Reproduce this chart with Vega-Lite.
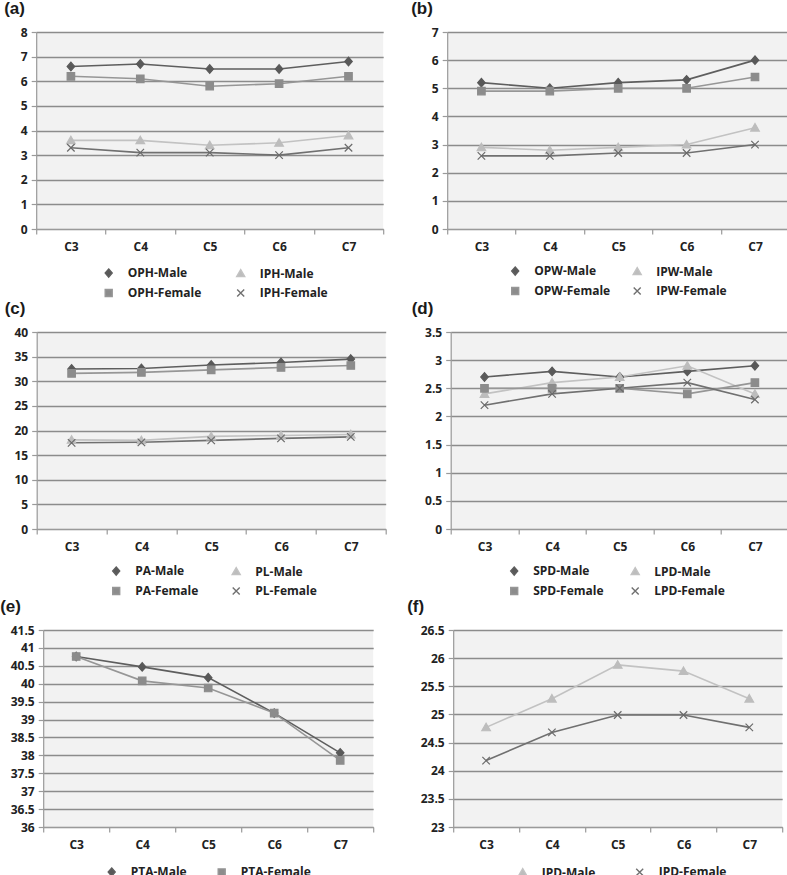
{
  "$schema": "https://vega.github.io/schema/vega-lite/v6.json",
  "background": "white",
  "padding": {"left": 0, "top": 0, "right": 2, "bottom": 0},
  "datasets": {
    "a": [
      {"cat": "C3", "s": "OPH-Male", "v": 6.6}, {"cat": "C4", "s": "OPH-Male", "v": 6.7}, {"cat": "C5", "s": "OPH-Male", "v": 6.5}, {"cat": "C6", "s": "OPH-Male", "v": 6.5}, {"cat": "C7", "s": "OPH-Male", "v": 6.8},
      {"cat": "C3", "s": "IPH-Male", "v": 3.6}, {"cat": "C4", "s": "IPH-Male", "v": 3.6}, {"cat": "C5", "s": "IPH-Male", "v": 3.4}, {"cat": "C6", "s": "IPH-Male", "v": 3.5}, {"cat": "C7", "s": "IPH-Male", "v": 3.8},
      {"cat": "C3", "s": "OPH-Female", "v": 6.2}, {"cat": "C4", "s": "OPH-Female", "v": 6.1}, {"cat": "C5", "s": "OPH-Female", "v": 5.8}, {"cat": "C6", "s": "OPH-Female", "v": 5.9}, {"cat": "C7", "s": "OPH-Female", "v": 6.2},
      {"cat": "C3", "s": "IPH-Female", "v": 3.3}, {"cat": "C4", "s": "IPH-Female", "v": 3.1}, {"cat": "C5", "s": "IPH-Female", "v": 3.1}, {"cat": "C6", "s": "IPH-Female", "v": 3.0}, {"cat": "C7", "s": "IPH-Female", "v": 3.3}
    ],
    "b": [
      {"cat": "C3", "s": "OPW-Male", "v": 5.2}, {"cat": "C4", "s": "OPW-Male", "v": 5.0}, {"cat": "C5", "s": "OPW-Male", "v": 5.2}, {"cat": "C6", "s": "OPW-Male", "v": 5.3}, {"cat": "C7", "s": "OPW-Male", "v": 6.0},
      {"cat": "C3", "s": "IPW-Male", "v": 2.9}, {"cat": "C4", "s": "IPW-Male", "v": 2.8}, {"cat": "C5", "s": "IPW-Male", "v": 2.9}, {"cat": "C6", "s": "IPW-Male", "v": 3.0}, {"cat": "C7", "s": "IPW-Male", "v": 3.6},
      {"cat": "C3", "s": "OPW-Female", "v": 4.9}, {"cat": "C4", "s": "OPW-Female", "v": 4.9}, {"cat": "C5", "s": "OPW-Female", "v": 5.0}, {"cat": "C6", "s": "OPW-Female", "v": 5.0}, {"cat": "C7", "s": "OPW-Female", "v": 5.4},
      {"cat": "C3", "s": "IPW-Female", "v": 2.6}, {"cat": "C4", "s": "IPW-Female", "v": 2.6}, {"cat": "C5", "s": "IPW-Female", "v": 2.7}, {"cat": "C6", "s": "IPW-Female", "v": 2.7}, {"cat": "C7", "s": "IPW-Female", "v": 3.0}
    ],
    "c": [
      {"cat": "C3", "s": "PA-Male", "v": 32.5}, {"cat": "C4", "s": "PA-Male", "v": 32.6}, {"cat": "C5", "s": "PA-Male", "v": 33.3}, {"cat": "C6", "s": "PA-Male", "v": 33.8}, {"cat": "C7", "s": "PA-Male", "v": 34.5},
      {"cat": "C3", "s": "PL-Male", "v": 18.1}, {"cat": "C4", "s": "PL-Male", "v": 18.0}, {"cat": "C5", "s": "PL-Male", "v": 18.8}, {"cat": "C6", "s": "PL-Male", "v": 19.0}, {"cat": "C7", "s": "PL-Male", "v": 19.2},
      {"cat": "C3", "s": "PA-Female", "v": 31.6}, {"cat": "C4", "s": "PA-Female", "v": 31.8}, {"cat": "C5", "s": "PA-Female", "v": 32.3}, {"cat": "C6", "s": "PA-Female", "v": 32.8}, {"cat": "C7", "s": "PA-Female", "v": 33.2},
      {"cat": "C3", "s": "PL-Female", "v": 17.5}, {"cat": "C4", "s": "PL-Female", "v": 17.6}, {"cat": "C5", "s": "PL-Female", "v": 18.0}, {"cat": "C6", "s": "PL-Female", "v": 18.4}, {"cat": "C7", "s": "PL-Female", "v": 18.7}
    ],
    "d": [
      {"cat": "C3", "s": "SPD-Male", "v": 2.7}, {"cat": "C4", "s": "SPD-Male", "v": 2.8}, {"cat": "C5", "s": "SPD-Male", "v": 2.7}, {"cat": "C6", "s": "SPD-Male", "v": 2.8}, {"cat": "C7", "s": "SPD-Male", "v": 2.9},
      {"cat": "C3", "s": "LPD-Male", "v": 2.4}, {"cat": "C4", "s": "LPD-Male", "v": 2.6}, {"cat": "C5", "s": "LPD-Male", "v": 2.7}, {"cat": "C6", "s": "LPD-Male", "v": 2.9}, {"cat": "C7", "s": "LPD-Male", "v": 2.4},
      {"cat": "C3", "s": "SPD-Female", "v": 2.5}, {"cat": "C4", "s": "SPD-Female", "v": 2.5}, {"cat": "C5", "s": "SPD-Female", "v": 2.5}, {"cat": "C6", "s": "SPD-Female", "v": 2.4}, {"cat": "C7", "s": "SPD-Female", "v": 2.6},
      {"cat": "C3", "s": "LPD-Female", "v": 2.2}, {"cat": "C4", "s": "LPD-Female", "v": 2.4}, {"cat": "C5", "s": "LPD-Female", "v": 2.5}, {"cat": "C6", "s": "LPD-Female", "v": 2.6}, {"cat": "C7", "s": "LPD-Female", "v": 2.3}
    ],
    "e": [
      {"cat": "C3", "s": "PTA-Male", "v": 40.76}, {"cat": "C4", "s": "PTA-Male", "v": 40.47}, {"cat": "C5", "s": "PTA-Male", "v": 40.17}, {"cat": "C6", "s": "PTA-Male", "v": 39.18}, {"cat": "C7", "s": "PTA-Male", "v": 38.07},
      {"cat": "C3", "s": "PTA-Female", "v": 40.76}, {"cat": "C4", "s": "PTA-Female", "v": 40.08}, {"cat": "C5", "s": "PTA-Female", "v": 39.88}, {"cat": "C6", "s": "PTA-Female", "v": 39.18}, {"cat": "C7", "s": "PTA-Female", "v": 37.86}
    ],
    "f": [
      {"cat": "C3", "s": "IPD-Male", "v": 24.77}, {"cat": "C4", "s": "IPD-Male", "v": 25.28}, {"cat": "C5", "s": "IPD-Male", "v": 25.88}, {"cat": "C6", "s": "IPD-Male", "v": 25.77}, {"cat": "C7", "s": "IPD-Male", "v": 25.28},
      {"cat": "C3", "s": "IPD-Female", "v": 24.18}, {"cat": "C4", "s": "IPD-Female", "v": 24.68}, {"cat": "C5", "s": "IPD-Female", "v": 24.99}, {"cat": "C6", "s": "IPD-Female", "v": 24.99}, {"cat": "C7", "s": "IPD-Female", "v": 24.77}
    ]
  },
  "vconcat": [
    {
      "hconcat": [
        {
          "title": {"text": "(a)", "dx": -32},
          "width": 347, "height": 197,
          "data": {"name": "a"},
          "encoding": {
            "x": {"field": "cat", "type": "ordinal", "title": null, "scale": {"type": "band", "paddingInner": 0, "paddingOuter": 0}, "axis": {"tickBand": "extent", "labelAngle": 0}},
            "y": {"field": "v", "type": "quantitative", "title": null, "scale": {"domain": [0, 8], "nice": false, "zero": false}, "axis": {"values": [0, 1, 2, 3, 4, 5, 6, 7, 8]}}
          },
          "layer": [
            {"mark": {"type": "line", "strokeWidth": 1.6}, "encoding": {"color": {"field": "s", "type": "nominal", "scale": {"domain": ["OPH-Male", "IPH-Male", "OPH-Female", "IPH-Female"], "range": ["#5e5e5e", "#c2c2c2", "#969696", "#707070"]}, "legend": {"title": null, "orient": "none", "legendX": 66.5, "legendY": 235, "columns": 2, "direction": "horizontal", "columnPadding": 32}}}},
            {"mark": {"type": "point", "filled": true, "opacity": 1, "size": 56, "strokeWidth": 1.2},
             "encoding": {
               "fill": {"field": "s", "type": "nominal", "scale": {"domain": ["OPH-Male", "IPH-Male", "OPH-Female", "IPH-Female"], "range": ["#595959", "#bdbdbd", "#8c8c8c", "#6a6a6a"]}, "legend": null},
               "stroke": {"field": "s", "type": "nominal", "scale": {"domain": ["OPH-Male", "IPH-Male", "OPH-Female", "IPH-Female"], "range": ["#595959", "#bdbdbd", "#8c8c8c", "#6a6a6a"]}, "legend": null},
               "shape": {"field": "s", "type": "nominal", "scale": {"domain": ["OPH-Male", "IPH-Male", "OPH-Female", "IPH-Female"], "range": ["M0,-1.15L1,0L0,1.15L-1,0Z", "M0,-1.1L1.15,0.9L-1.15,0.9Z", "M-1,-1H1V1H-1Z", "M-1,-1L1,1M1,-1L-1,1"]}, "legend": null}
             }}
          ]
        },
        {
          "title": {"text": "(b)", "dx": -36},
          "width": 342, "height": 197,
          "data": {"name": "b"},
          "encoding": {
            "x": {"field": "cat", "type": "ordinal", "title": null, "scale": {"type": "band", "paddingInner": 0, "paddingOuter": 0}, "axis": {"tickBand": "extent", "labelAngle": 0}},
            "y": {"field": "v", "type": "quantitative", "title": null, "scale": {"domain": [0, 7], "nice": false, "zero": false}, "axis": {"values": [0, 1, 2, 3, 4, 5, 6, 7]}}
          },
          "layer": [
            {"mark": {"type": "line", "strokeWidth": 1.6}, "encoding": {"color": {"field": "s", "type": "nominal", "scale": {"domain": ["OPW-Male", "IPW-Male", "OPW-Female", "IPW-Female"], "range": ["#5e5e5e", "#c2c2c2", "#969696", "#707070"]}, "legend": {"title": null, "orient": "none", "legendX": 62, "legendY": 233, "columns": 2, "direction": "horizontal", "columnPadding": 19}}}},
            {"mark": {"type": "point", "filled": true, "opacity": 1, "size": 56, "strokeWidth": 1.2},
             "encoding": {
               "fill": {"field": "s", "type": "nominal", "scale": {"domain": ["OPW-Male", "IPW-Male", "OPW-Female", "IPW-Female"], "range": ["#595959", "#bdbdbd", "#8c8c8c", "#6a6a6a"]}, "legend": null},
               "stroke": {"field": "s", "type": "nominal", "scale": {"domain": ["OPW-Male", "IPW-Male", "OPW-Female", "IPW-Female"], "range": ["#595959", "#bdbdbd", "#8c8c8c", "#6a6a6a"]}, "legend": null},
               "shape": {"field": "s", "type": "nominal", "scale": {"domain": ["OPW-Male", "IPW-Male", "OPW-Female", "IPW-Female"], "range": ["M0,-1.15L1,0L0,1.15L-1,0Z", "M0,-1.1L1.15,0.9L-1.15,0.9Z", "M-1,-1H1V1H-1Z", "M-1,-1L1,1M1,-1L-1,1"]}, "legend": null}
             }}
          ]
        }
      ],
      "spacing": 27,
      "resolve": {"scale": {"color": "independent", "fill": "independent", "stroke": "independent", "shape": "independent"}, "legend": {"color": "independent", "fill": "independent", "stroke": "independent", "shape": "independent"}}
    },
    {
      "hconcat": [
        {
          "title": {"text": "(c)", "dx": -32},
          "width": 349, "height": 197,
          "data": {"name": "c"},
          "encoding": {
            "x": {"field": "cat", "type": "ordinal", "title": null, "scale": {"type": "band", "paddingInner": 0, "paddingOuter": 0}, "axis": {"tickBand": "extent", "labelAngle": 0}},
            "y": {"field": "v", "type": "quantitative", "title": null, "scale": {"domain": [0, 40], "nice": false, "zero": false}, "axis": {"values": [0, 5, 10, 15, 20, 25, 30, 35, 40]}}
          },
          "layer": [
            {"mark": {"type": "line", "strokeWidth": 1.6}, "encoding": {"color": {"field": "s", "type": "nominal", "scale": {"domain": ["PA-Male", "PL-Male", "PA-Female", "PL-Female"], "range": ["#5e5e5e", "#c2c2c2", "#969696", "#707070"]}, "legend": {"title": null, "orient": "none", "legendX": 73.5, "legendY": 233, "columns": 2, "direction": "horizontal", "columnPadding": 30}}}},
            {"mark": {"type": "point", "filled": true, "opacity": 1, "size": 56, "strokeWidth": 1.2},
             "encoding": {
               "fill": {"field": "s", "type": "nominal", "scale": {"domain": ["PA-Male", "PL-Male", "PA-Female", "PL-Female"], "range": ["#595959", "#bdbdbd", "#8c8c8c", "#6a6a6a"]}, "legend": null},
               "stroke": {"field": "s", "type": "nominal", "scale": {"domain": ["PA-Male", "PL-Male", "PA-Female", "PL-Female"], "range": ["#595959", "#bdbdbd", "#8c8c8c", "#6a6a6a"]}, "legend": null},
               "shape": {"field": "s", "type": "nominal", "scale": {"domain": ["PA-Male", "PL-Male", "PA-Female", "PL-Female"], "range": ["M0,-1.15L1,0L0,1.15L-1,0Z", "M0,-1.1L1.15,0.9L-1.15,0.9Z", "M-1,-1H1V1H-1Z", "M-1,-1L1,1M1,-1L-1,1"]}, "legend": null}
             }}
          ]
        },
        {
          "title": {"text": "(d)", "dx": -39},
          "width": 338, "height": 197,
          "data": {"name": "d"},
          "encoding": {
            "x": {"field": "cat", "type": "ordinal", "title": null, "scale": {"type": "band", "paddingInner": 0, "paddingOuter": 0}, "axis": {"tickBand": "extent", "labelAngle": 0}},
            "y": {"field": "v", "type": "quantitative", "title": null, "scale": {"domain": [0, 3.5], "nice": false, "zero": false}, "axis": {"values": [0, 0.5, 1, 1.5, 2, 2.5, 3, 3.5]}}
          },
          "layer": [
            {"mark": {"type": "line", "strokeWidth": 1.6}, "encoding": {"color": {"field": "s", "type": "nominal", "scale": {"domain": ["SPD-Male", "LPD-Male", "SPD-Female", "LPD-Female"], "range": ["#5e5e5e", "#c2c2c2", "#969696", "#707070"]}, "legend": {"title": null, "orient": "none", "legendX": 57.5, "legendY": 233, "columns": 2, "direction": "horizontal", "columnPadding": 24}}}},
            {"mark": {"type": "point", "filled": true, "opacity": 1, "size": 56, "strokeWidth": 1.2},
             "encoding": {
               "fill": {"field": "s", "type": "nominal", "scale": {"domain": ["SPD-Male", "LPD-Male", "SPD-Female", "LPD-Female"], "range": ["#595959", "#bdbdbd", "#8c8c8c", "#6a6a6a"]}, "legend": null},
               "stroke": {"field": "s", "type": "nominal", "scale": {"domain": ["SPD-Male", "LPD-Male", "SPD-Female", "LPD-Female"], "range": ["#595959", "#bdbdbd", "#8c8c8c", "#6a6a6a"]}, "legend": null},
               "shape": {"field": "s", "type": "nominal", "scale": {"domain": ["SPD-Male", "LPD-Male", "SPD-Female", "LPD-Female"], "range": ["M0,-1.15L1,0L0,1.15L-1,0Z", "M0,-1.1L1.15,0.9L-1.15,0.9Z", "M-1,-1H1V1H-1Z", "M-1,-1L1,1M1,-1L-1,1"]}, "legend": null}
             }}
          ]
        }
      ],
      "spacing": 25,
      "resolve": {"scale": {"color": "independent", "fill": "independent", "stroke": "independent", "shape": "independent"}, "legend": {"color": "independent", "fill": "independent", "stroke": "independent", "shape": "independent"}}
    },
    {
      "hconcat": [
        {
          "title": {"text": "(e)", "dx": -43},
          "width": 330, "height": 197,
          "data": {"name": "e"},
          "encoding": {
            "x": {"field": "cat", "type": "ordinal", "title": null, "scale": {"type": "band", "paddingInner": 0, "paddingOuter": 0}, "axis": {"tickBand": "extent", "labelAngle": 0}},
            "y": {"field": "v", "type": "quantitative", "title": null, "scale": {"domain": [36, 41.5], "nice": false, "zero": false}, "axis": {"values": [36, 36.5, 37, 37.5, 38, 38.5, 39, 39.5, 40, 40.5, 41, 41.5]}}
          },
          "layer": [
            {"mark": {"type": "line", "strokeWidth": 1.6}, "encoding": {"color": {"field": "s", "type": "nominal", "scale": {"domain": ["PTA-Male", "PTA-Female"], "range": ["#5e5e5e", "#969696"]}, "legend": {"title": null, "orient": "none", "legendX": 62.5, "legendY": 236, "columns": 2, "direction": "horizontal", "columnPadding": 28}}}},
            {"mark": {"type": "point", "filled": true, "opacity": 1, "size": 56, "strokeWidth": 1.2},
             "encoding": {
               "fill": {"field": "s", "type": "nominal", "scale": {"domain": ["PTA-Male", "PTA-Female"], "range": ["#595959", "#8c8c8c"]}, "legend": null},
               "stroke": {"field": "s", "type": "nominal", "scale": {"domain": ["PTA-Male", "PTA-Female"], "range": ["#595959", "#8c8c8c"]}, "legend": null},
               "shape": {"field": "s", "type": "nominal", "scale": {"domain": ["PTA-Male", "PTA-Female"], "range": ["M0,-1.15L1,0L0,1.15L-1,0Z", "M-1,-1H1V1H-1Z"]}, "legend": null}
             }}
          ]
        },
        {
          "title": {"text": "(f)", "dx": -46},
          "width": 329, "height": 197,
          "data": {"name": "f"},
          "encoding": {
            "x": {"field": "cat", "type": "ordinal", "title": null, "scale": {"type": "band", "paddingInner": 0, "paddingOuter": 0}, "axis": {"tickBand": "extent", "labelAngle": 0}},
            "y": {"field": "v", "type": "quantitative", "title": null, "scale": {"domain": [23, 26.5], "nice": false, "zero": false}, "axis": {"values": [23, 23.5, 24, 24.5, 25, 25.5, 26, 26.5]}}
          },
          "layer": [
            {"mark": {"type": "line", "strokeWidth": 1.6}, "encoding": {"color": {"field": "s", "type": "nominal", "scale": {"domain": ["IPD-Male", "IPD-Female"], "range": ["#c2c2c2", "#707070"]}, "legend": {"title": null, "orient": "none", "legendX": 63.5, "legendY": 236, "columns": 2, "direction": "horizontal", "columnPadding": 37}}}},
            {"mark": {"type": "point", "filled": true, "opacity": 1, "size": 56, "strokeWidth": 1.2},
             "encoding": {
               "fill": {"field": "s", "type": "nominal", "scale": {"domain": ["IPD-Male", "IPD-Female"], "range": ["#bdbdbd", "#6a6a6a"]}, "legend": null},
               "stroke": {"field": "s", "type": "nominal", "scale": {"domain": ["IPD-Male", "IPD-Female"], "range": ["#bdbdbd", "#6a6a6a"]}, "legend": null},
               "shape": {"field": "s", "type": "nominal", "scale": {"domain": ["IPD-Male", "IPD-Female"], "range": ["M0,-1.1L1.15,0.9L-1.15,0.9Z", "M-1,-1L1,1M1,-1L-1,1"]}, "legend": null}
             }}
          ]
        }
      ],
      "spacing": 33,
      "resolve": {"scale": {"color": "independent", "fill": "independent", "stroke": "independent", "shape": "independent"}, "legend": {"color": "independent", "fill": "independent", "stroke": "independent", "shape": "independent"}}
    }
  ],
  "center": true,
  "spacing": 0,
  "resolve": {"scale": {"color": "independent", "fill": "independent", "stroke": "independent", "shape": "independent"}, "legend": {"color": "independent", "fill": "independent", "stroke": "independent", "shape": "independent"}},
  "config": {
    "font": "Open Sans",
    "view": {"fill": "#f2f2f2", "stroke": null},
    "title": {"anchor": "start", "frame": "group", "font": "Liberation Sans", "fontSize": 17, "fontWeight": "bold", "color": "#1a1a1a", "offset": 8},
    "axis": {"labelFont": "Open Sans", "labelFontSize": 12, "labelFontWeight": "bold", "labelColor": "#222222", "domainColor": "#9a9a9a", "tickColor": "#9a9a9a", "domainWidth": 1.2, "tickWidth": 1.2},
    "axisX": {"grid": false, "tickSize": 5, "labelPadding": 7},
    "axisY": {"grid": true, "gridColor": "#8c8c8c", "gridWidth": 1.3, "tickSize": 5, "labelPadding": 4, "format": "~g"},
    "legend": {"labelFont": "Open Sans", "labelFontSize": 12, "labelFontWeight": "bold", "labelColor": "#222222", "symbolSize": 49, "symbolStrokeWidth": 1.4, "labelOffset": 13, "rowPadding": 6}
  }
}
